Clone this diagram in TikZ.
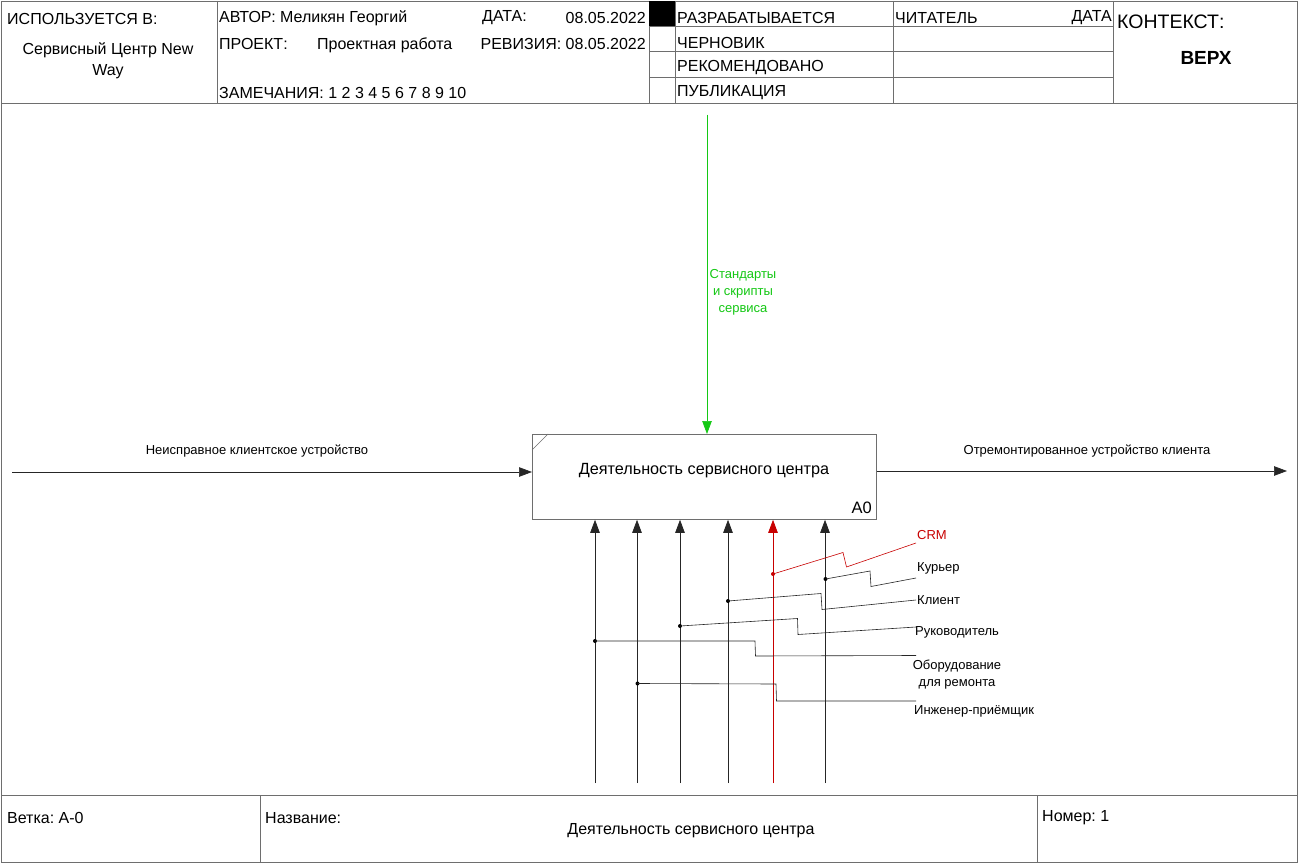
\documentclass[tikz,border=0pt]{standalone}
\usepackage{fontspec}
\setmainfont{Liberation Sans}
\usetikzlibrary{arrows.meta}
\definecolor{framegray}{RGB}{110,110,110}
\definecolor{idefgreen}{RGB}{20,200,20}
\definecolor{idefred}{RGB}{200,0,0}
\frenchspacing
\begin{document}
\begin{tikzpicture}[x=1pt,y=-1pt,
  frame/.style={draw=framegray, line width=0.8pt},
  hdr/.style={font=\fontsize{16}{18}\selectfont, inner sep=0, anchor=west},
  lbl/.style={font=\fontsize{13}{17}\selectfont, inner sep=0, align=center},
  arr/.style={draw=black!85, line width=0.7pt, -{Triangle[length=13pt,width=9.5pt]}},
  branch/.style={draw=black!85, line width=0.6pt},
  dot/.style={circle, fill=black, inner sep=0, minimum size=4pt},
  boxst/.style={draw=framegray, line width=0.8pt, minimum width=344pt, minimum height=85pt, inner sep=0, anchor=north west}
]
\useasboundingbox (0,0) rectangle (1299,864);
\fill[white] (0,0) rectangle (1299,864);
% outer frame and sections
\draw[frame] (1,1) rectangle (1297,862);
\draw[frame] (1,103) -- (1297,103);
\draw[frame] (1,795) -- (1297,795);
\foreach \xx in {217,649,675,893,1113} \draw[frame] (\xx,1) -- (\xx,103);
\foreach \yy in {26,51,77} \draw[frame] (649,\yy) -- (1113,\yy);
\fill[black] (649,1) rectangle (675,26);
\draw[frame] (260,795) -- (260,862);
\draw[frame] (1037,795) -- (1037,862);
% header texts
\node[hdr] (used) at (7,19) {ИСПОЛЬЗУЕТСЯ В:};
\node[hdr, anchor=center, align=center, font=\fontsize{16}{21}\selectfont] (usedv) at (108,61) {Сервисный Центр New\\Way};
\node[hdr] (author) at (219,18) {АВТОР: Меликян Георгий};
\node[hdr] (date) at (482,18) {ДАТА:};
\node[hdr, anchor=east] (datev) at (646,18) {08.05.2022};
\node[hdr] (proj) at (219,44) {ПРОЕКТ:};
\node[hdr] (projv) at (317,45) {Проектная работа};
\node[hdr, anchor=east] (rev) at (646,44) {РЕВИЗИЯ: 08.05.2022};
\node[hdr] (notes) at (219,93) {ЗАМЕЧАНИЯ: 1 2 3 4 5 6 7 8 9 10};
\node[hdr] (st1) at (677,18) {РАЗРАБАТЫВАЕТСЯ};
\node[hdr] (st2) at (677,43) {ЧЕРНОВИК};
\node[hdr] (st3) at (677,68) {РЕКОМЕНДОВАНО};
\node[hdr] (st4) at (677,93) {ПУБЛИКАЦИЯ};
\node[hdr] (reader) at (895,18) {ЧИТАТЕЛЬ};
\node[hdr, anchor=east] (rdate) at (1112,18) {ДАТА};
\node[hdr, font=\fontsize{19.5}{22}\selectfont] (ctx) at (1117,22) {КОНТЕКСТ:};
\node[hdr, anchor=center, font=\fontsize{19}{22}\selectfont\bfseries] (top) at (1206,58) {ВЕРХ};
% footer texts
\node[hdr] (node) at (7,818) {Ветка: А-0};
\node[hdr] (title) at (265,818) {Название:};
\node[hdr, anchor=center] (titlev) at (691,831) {Деятельность сервисного центра};
\node[hdr] (num) at (1042,818) {Номер: 1};
% activity box
\node[boxst] (A0) at (532,434) {};
\draw[draw=framegray, line width=0.6pt] (532,450) -- (548,434);
\node[hdr, anchor=center, font=\fontsize{16.2}{18}\selectfont] (A0t) at (704,471) {Деятельность сервисного центра};
\node[hdr, anchor=east, font=\fontsize{16.5}{18}\selectfont] (A0n) at (872,508) {A0};
% input
\coordinate (in0) at (12,472);
\draw[arr] (in0) -- (in0 -| A0.west);
\node[lbl] (inl) at (257,451) {Неисправное клиентское устройство};
% output
\coordinate (out0) at (1287,471);
\draw[arr] (out0 -| A0.east) -- (out0);
\node[lbl] (outl) at (1087,451) {Отремонтированное устройство клиента};
% control
\coordinate (c0) at (707,115);
\draw[arr, draw=idefgreen, fill=idefgreen] (c0) -- (c0 |- A0.north);
\node[lbl, text=idefgreen] (cl) at (743,292) {Стандарты\\и скрипты\\сервиса};
% mechanisms
\foreach \nm/\xx in {m1/595,m2/637,m3/680,m4/728,m6/825} {
  \coordinate (\nm) at (\xx,783);
  \draw[arr] (\nm) -- (\nm |- A0.south);
}
\coordinate (m5) at (773,783);
\draw[arr, draw=idefred, fill=idefred] (m5) -- (m5 |- A0.south);
% branch points
\node[dot, fill=idefred] (d5) at (773,574) {};
\node[dot] (d6) at (825.5,579) {};
\node[dot] (d4) at (728,601) {};
\node[dot] (d3) at (680,626) {};
\node[dot] (d1) at (595,641) {};
\node[dot] (d2) at (637.5,683.5) {};
% free ends
\coordinate (e5) at (916,543);
\coordinate (e6) at (916,578);
\coordinate (e4) at (916,600);
\coordinate (e3) at (916,627);
\coordinate (e1) at (916,655.5);
\coordinate (e2) at (916,701);
\draw[branch, draw=idefred] (d5.center) -- (843,552.5) -- (846.5,567) -- (e5);
\draw[branch] (d6.center) -- (870,571) -- (871,586.5) -- (e6);
\draw[branch] (d4.center) -- (821,593.5) -- (822,609.5) -- (e4);
\draw[branch] (d3.center) -- (797.5,618.5) -- (798,634.5) -- (e3);
\draw[branch] (d1.center) -- (755,641) -- (755.5,656) -- (e1);
\draw[branch] (d2.center) -- (776,684) -- (776.5,701) -- (e2);
% mechanism labels
\node[lbl, anchor=west, text=idefred] (l5) at (917,535) {CRM};
\node[lbl, anchor=west] (l6) at (917,568) {Курьер};
\node[lbl, anchor=west] (l4) at (917,600) {Клиент};
\node[lbl, anchor=west] (l3) at (915,632) {Руководитель};
\node[lbl] (l1) at (957,674.5) {Оборудование\\для ремонта};
\node[lbl, anchor=west] (l2) at (914,711) {Инженер-приёмщик};
\end{tikzpicture}
\end{document}
